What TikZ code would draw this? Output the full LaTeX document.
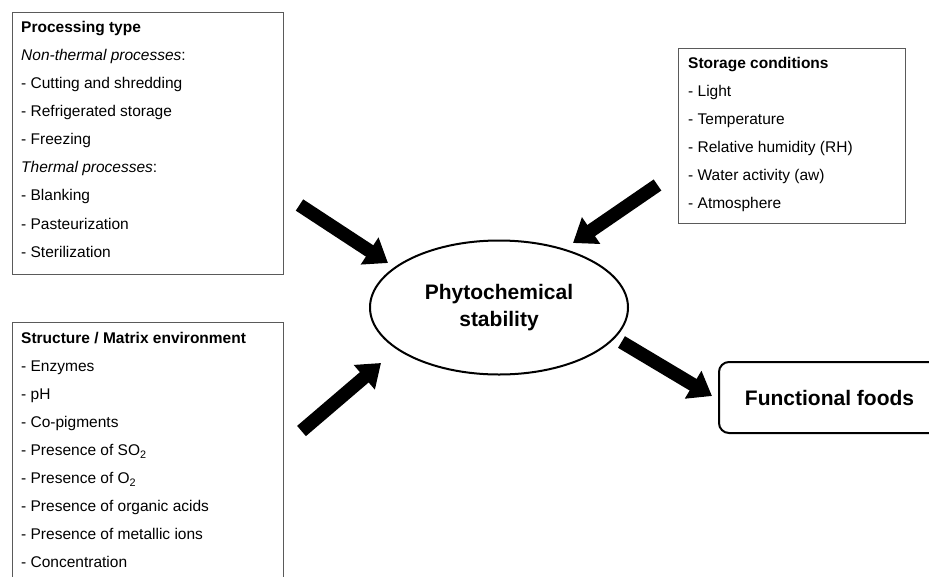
\documentclass[tikz,border=0pt]{standalone}
\usepackage{fontspec}
\setmainfont{Liberation Sans}
\usetikzlibrary{arrows.meta,shapes.geometric}
\definecolor{boxgray}{RGB}{90,90,90}
\tikzset{
  listbox/.style={draw=boxgray, line width=1.1pt},
  listtext/.style={anchor=north west, inner sep=0pt, align=left,
    font=\fontsize{15.5}{28.1}\selectfont},
  bigarrow/.style={line width=13.5pt, -{Triangle[length=22pt,width=31pt]}},
  titlefont/.style={font=\fontsize{21}{27}\selectfont\bfseries}
}
\begin{document}
\begin{tikzpicture}[x=1pt,y=-1pt]
\useasboundingbox (0,0) rectangle (929,576);
\clip (0,0) rectangle (929,576);
% boxes
\node[listbox, anchor=north west, minimum width=271.5pt, minimum height=262pt, inner sep=0pt] (procbox) at (11.5,12) {};
\node[listtext] (proctext) at (21,20.9) {\textbf{Processing type}\\
\textit{Non-thermal processes}:\\
- Cutting and shredding\\
- Refrigerated storage\\
- Freezing\\
\textit{Thermal processes}:\\
- Blanking\\
- Pasteurization\\
- Sterilization};

\node[listbox, anchor=north west, minimum width=271.5pt, minimum height=290pt, inner sep=0pt] (structbox) at (11.5,322) {};
\node[listtext] (structtext) at (21,331.7) {\textbf{Structure / Matrix environment}\\
- Enzymes\\
- pH\\
- Co-pigments\\
- Presence of SO\textsubscript{2}\\
- Presence of O\textsubscript{2}\\
- Presence of organic acids\\
- Presence of metallic ions\\
- Concentration};

\node[listbox, anchor=north west, minimum width=227pt, minimum height=175pt, inner sep=0pt] (storbox) at (678,48) {};
\node[listtext] (stortext) at (688,57) {\textbf{Storage conditions}\\
- Light\\
- Temperature\\
- Relative humidity (RH)\\
- Water activity (aw)\\
- Atmosphere};

% central ellipse
\node[draw, ellipse, line width=2pt, minimum width=258pt, minimum height=134pt, inner sep=0pt,
  align=center, titlefont] (phyto) at (499,307.5) {Phytochemical\\stability};

% functional foods
\node[draw, rounded corners=10pt, line width=2pt, minimum width=221pt, minimum height=71pt,
  titlefont] (ff) at (829.5,397.5) {Functional foods};

% arrows
\coordinate (a1s) at (299.5,205);
\coordinate (a1e) at (388,263);
\coordinate (a2s) at (301.5,431);
\coordinate (a2e) at (381,363);
\coordinate (a3s) at (657.5,185);
\coordinate (a3e) at (573,243);
\coordinate (a4s) at (621.5,342);
\coordinate (a4e) at (712,396);
\draw[bigarrow] (a1s) -- (a1e);
\draw[bigarrow] (a2s) -- (a2e);
\draw[bigarrow] (a3s) -- (a3e);
\draw[bigarrow] (a4s) -- (a4e);
\end{tikzpicture}
\end{document}
